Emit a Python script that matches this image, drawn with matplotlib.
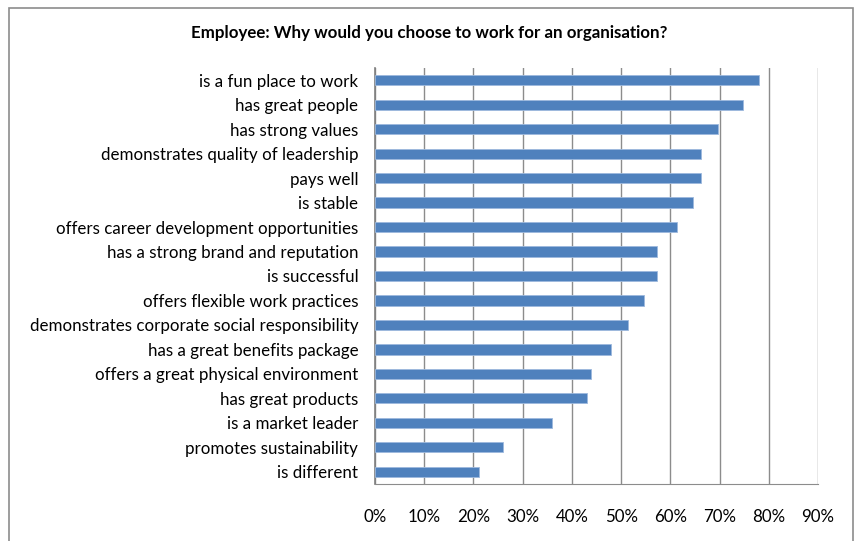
import matplotlib.pyplot as plt
from matplotlib.patches import Rectangle
from matplotlib.ticker import PercentFormatter

reasons = [
    "is a fun place to work",
    "has great people",
    "has strong values",
    "demonstrates quality of leadership",
    "pays well",
    "is stable",
    "offers career development opportunities",
    "has a strong brand and reputation",
    "is successful",
    "offers flexible work practices",
    "demonstrates corporate social responsibility",
    "has a great benefits package",
    "offers a great physical environment",
    "has great products",
    "is a market leader",
    "promotes sustainability",
    "is different",
]
share = [78.0, 74.7, 69.7, 66.3, 66.3, 64.7, 61.3, 57.2, 57.2, 54.7,
         51.4, 48.0, 43.8, 43.0, 36.0, 26.1, 21.1]

plt.rcParams['font.family'] = ['Lato', 'DejaVu Sans']

fig = plt.figure(figsize=(8.59, 5.41), dpi=100)
ax = fig.add_axes([375 / 859, 1 - 484 / 541, 443 / 859, 416 / 541])

# outer chart border
fig.patches.append(Rectangle((9 / 859, -0.1), 844 / 859, 1 - 8 / 541 + 0.1,
                             transform=fig.transFigure, fill=False,
                             edgecolor='#8c8c8c', linewidth=1.2))

ypos = range(len(reasons))
ax.barh(ypos, share, height=0.42, color='#4f81bd', edgecolor='#9db9dd',
        linewidth=0.6, zorder=3)

ax.set_xlim(0, 90)
ax.set_ylim(len(reasons) - 0.5, -0.5)
ax.set_xticks(range(0, 91, 10))
ax.xaxis.set_major_formatter(PercentFormatter(decimals=0))
ax.set_yticks(list(ypos))
ax.set_yticklabels(reasons)

ax.grid(axis='x', color='#8c8c8c', linewidth=1.0, zorder=0)
for side in ('top', 'right'):
    ax.spines[side].set_visible(False)
ax.spines['left'].set_color('#7f7f7f')
ax.spines['bottom'].set_color('#8c8c8c')
ax.spines['left'].set_linewidth(1.2)
ax.tick_params(axis='both', length=0, labelsize=12.2, colors='black')
ax.tick_params(axis='x', pad=18)
ax.tick_params(axis='y', pad=12)

fig.text(0.5, 1 - 33 / 541, "Employee: Why would you choose to work for an organisation?",
         ha='center', va='center', fontsize=12.2, fontweight='bold')

fig.savefig("out.png", dpi=100)
